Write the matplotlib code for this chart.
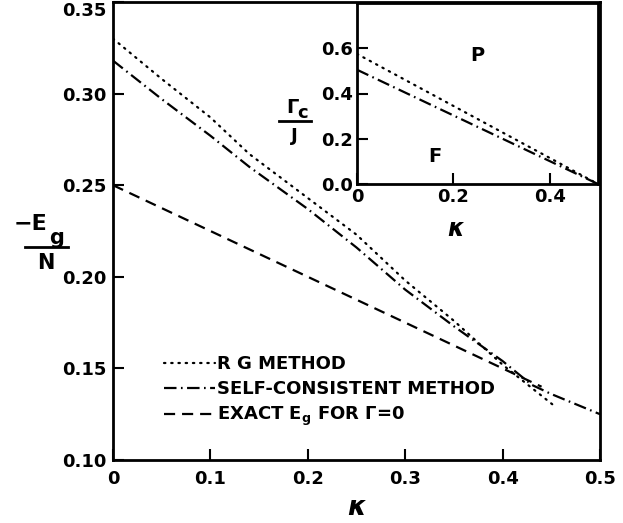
import matplotlib
matplotlib.use('Agg')
import matplotlib.pyplot as plt
from matplotlib.lines import Line2D

plt.rcParams['font.family'] = ['DejaVu Sans']
plt.rcParams['font.weight'] = 'bold'
plt.rcParams['lines.scale_dashes'] = False

# main panel: -E_g/N against kappa
kappa_rg = [0.0, 0.05, 0.10, 0.14, 0.20, 0.25, 0.30, 0.35, 0.40, 0.452]
eg_rg = [0.330, 0.308, 0.287, 0.267, 0.243, 0.223, 0.198, 0.176, 0.152, 0.130]

kappa_sc = [0.0, 0.05, 0.10, 0.14, 0.20, 0.25, 0.30, 0.35, 0.40, 0.43, 0.45, 0.50]
eg_sc = [0.318, 0.297, 0.277, 0.260, 0.237, 0.216, 0.193, 0.173, 0.154, 0.141, 0.136, 0.125]

kappa_ex = [0.0, 0.44]
eg_ex = [0.250, 0.140]

# inset: critical Gamma_c/J against kappa
kappa_in = [0.0, 0.5]
gc_rg = [0.575, 0.0]
gc_sc = [0.505, 0.0]

W, H = 623, 523
fig = plt.figure(figsize=(W / 100, H / 100), dpi=100)

def px(x, y):
    return x / W, 1 - y / H

ax = fig.add_axes([113 / W, 1 - 460 / H, 487 / W, 458 / H])
ax.plot(kappa_rg, eg_rg, color='black', lw=1.6, dashes=(1.0, 4.2), dash_capstyle='round', label='R G METHOD')
ax.plot(kappa_sc, eg_sc, color='black', lw=1.6, dashes=(9, 3.2, 1.2, 3.2), label='SELF-CONSISTENT METHOD')
ax.plot(kappa_ex, eg_ex, color='black', lw=1.6, dashes=(8, 5), label=r'EXACT E$_\mathbf{g}$ FOR $\mathbf{\Gamma}$=0')
ax.set_xlim(0, 0.5)
ax.set_ylim(0.10, 0.35)
ax.set_xticks([0, 0.1, 0.2, 0.3, 0.4, 0.5])
ax.set_xticklabels(['0', '0.1', '0.2', '0.3', '0.4', '0.5'])
ax.set_yticks([0.10, 0.15, 0.20, 0.25, 0.30, 0.35])
ax.set_yticklabels(['0.10', '0.15', '0.20', '0.25', '0.30', '0.35'])
ax.tick_params(direction='in', length=8, width=1.5, labelsize=13, pad=5)
ax.tick_params(axis='x', pad=7)
ax.get_yticklabels()[-1].set_va('top')  # top label sits just under the frame
for s in ax.spines.values():
    s.set_linewidth(2)

leg = ax.legend(loc='lower left', bbox_to_anchor=(0.105, 0.07), frameon=False,
                fontsize=13, handlelength=2.8, handletextpad=0.15, labelspacing=0.38,
                borderpad=0, borderaxespad=0)

# axis labels drawn as stacked fractions
fig.text(*px(357, 508), 'κ', fontsize=19, style='italic', ha='center', va='center')
fig.text(*px(31, 224), '−E', fontsize=16, ha='center', va='center')
fig.text(*px(57, 238), 'g', fontsize=15, ha='center', va='center')
fig.add_artist(Line2D([25 / W, 68 / W], [1 - 247 / H, 1 - 247 / H], color='black', lw=2))
fig.text(*px(46, 263), 'N', fontsize=15, ha='center', va='center')

# inset
ins = fig.add_axes([357 / W, 1 - 184 / H, 241 / W, 181 / H])
ins.plot(kappa_in, gc_rg, color='black', lw=1.6, dashes=(1.0, 4.2), dash_capstyle='round')
ins.plot(kappa_in, gc_sc, color='black', lw=1.6, dashes=(9, 3.2, 1.2, 3.2))
ins.set_xlim(0, 0.5)
ins.set_ylim(0, 0.8)
ins.set_xticks([0, 0.2, 0.4])
ins.set_xticklabels(['0', '0.2', '0.4'])
ins.set_yticks([0, 0.2, 0.4, 0.6])
ins.set_yticklabels(['0.0', '0.2', '0.4', '0.6'])
ins.tick_params(direction='in', length=8, width=1.5, labelsize=13, pad=3)
for s in ins.spines.values():
    s.set_linewidth(2)
ins.text(0.249, 0.57, 'P', fontsize=14, ha='center', va='center')
ins.text(0.162, 0.12, 'F', fontsize=14, ha='center', va='center')

fig.text(*px(456, 229), 'κ', fontsize=17, style='italic', ha='center', va='center')
fig.text(*px(292, 108), 'Γ', fontsize=14, ha='center', va='center')
fig.text(*px(303, 113), 'c', fontsize=13, ha='center', va='center')
fig.add_artist(Line2D([279 / W, 311 / W], [1 - 121 / H, 1 - 121 / H], color='black', lw=2))
fig.text(*px(294, 136), 'J', fontsize=13, ha='center', va='center')

fig.savefig('out.png', dpi=100)
